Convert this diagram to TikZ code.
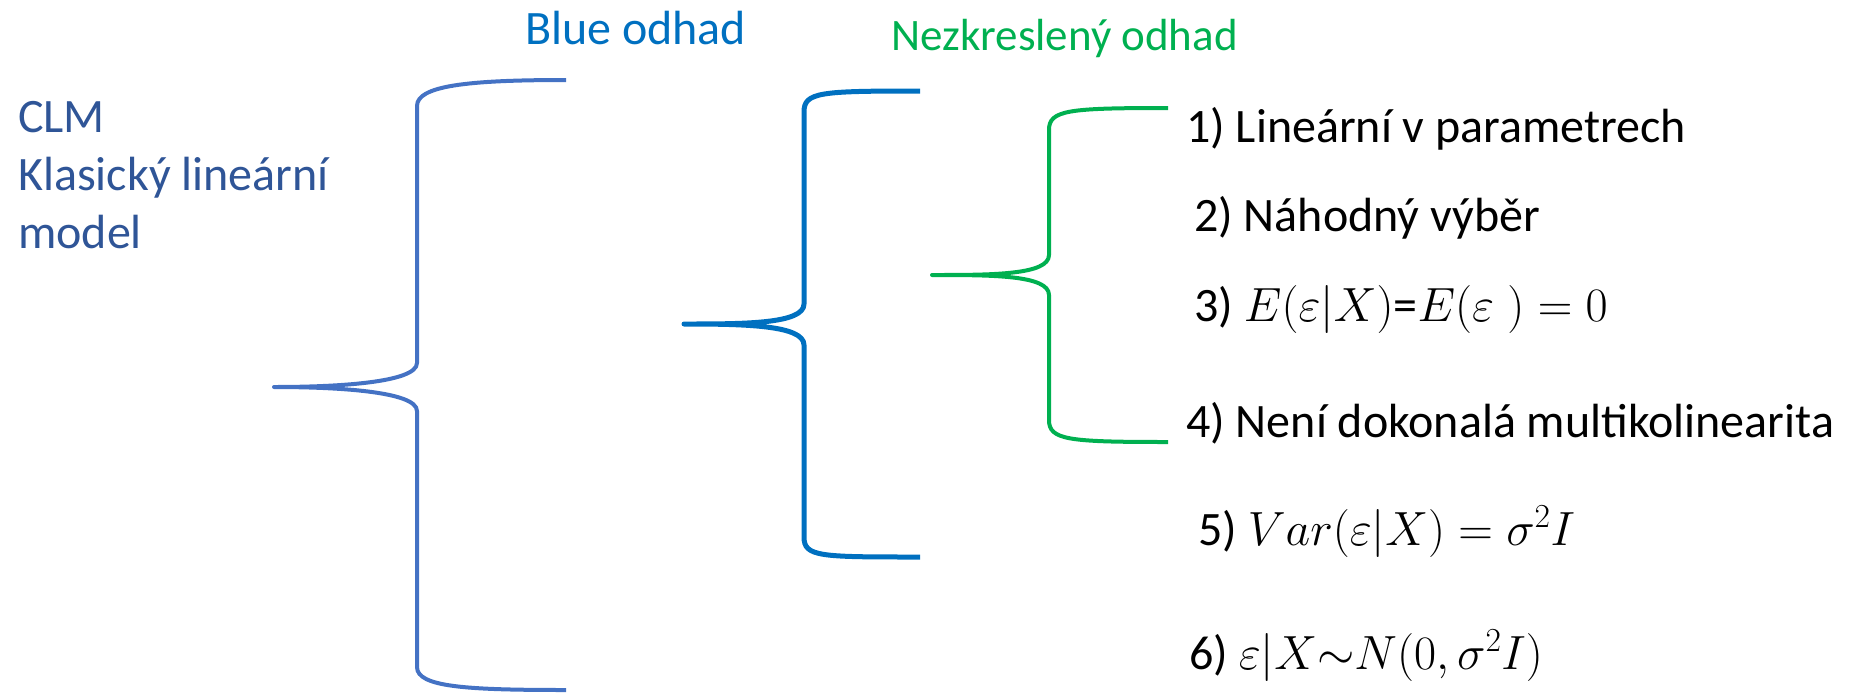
\documentclass[tikz,border=0pt]{standalone}
\usepackage{fix-cm}
\usepackage{fontspec}
\setmainfont{Carlito}
\usepackage{tikz}
\usetikzlibrary{positioning}
\definecolor{clmblue}{HTML}{4472C4}
\definecolor{clmtext}{HTML}{2F5597}
\definecolor{blueodhad}{HTML}{0070C0}
\definecolor{nezgreen}{HTML}{00B050}

\begin{document}
\begin{tikzpicture}[x=1pt,y=-1pt,
  lbl/.style={anchor=base west,inner sep=0pt,font=\fontsize{48}{58}\selectfont},
  brace/.style={line width=4pt,line join=round}]
  \useasboundingbox (0,0) rectangle (1850,697);

  % headings
  \node[lbl,align=left,text=clmtext] (clm) at (18,248) {CLM\\Klasický lineární\\model};
  \node[lbl,text=blueodhad] (blue) at (525,44) {Blue odhad};
  \node[lbl,text=nezgreen,font=\fontsize{45}{54}\selectfont] (nezkr) at (891,50) {Nezkreslený odhad};

  % assumptions
  \node[lbl] (a1) at (1186,142) {1) Lineární v parametrech};
  \node[lbl] (a2) at (1194,231) {2) Náhodný výběr};
  \node[lbl] (a3) at (1194,321) {3) $E(\varepsilon|X)$=$E(\varepsilon\;) = 0$};
  \node[lbl] (a4) at (1186,437) {4) Není dokonalá multikolinearita};
  \node[lbl] (a5) at (1198,545) {5) $Var(\varepsilon|X) = \sigma^2 I$};
  \node[lbl] (a6) at (1189,669) {6) $\varepsilon|X{\sim}N(0,\sigma^2 I)$};

  % brace points: top end, spine, tip, spine, bottom end
  \coordinate (clm-top) at (566,80);  \coordinate (clm-s1) at (417,106);
  \coordinate (clm-s2) at (417,363);  \coordinate (clm-tip) at (274,387);
  \coordinate (clm-s3) at (417,411);  \coordinate (clm-s4) at (417,667);
  \coordinate (clm-bot) at (566,690);

  \coordinate (blue-top) at (920,91);  \coordinate (blue-s1) at (804,112);
  \coordinate (blue-s2) at (804,304);  \coordinate (blue-tip) at (684,324);
  \coordinate (blue-s3) at (804,345);  \coordinate (blue-s4) at (804,537);
  \coordinate (blue-bot) at (920,557);

  \coordinate (nez-top) at (1168,108); \coordinate (nez-s1) at (1049,130);
  \coordinate (nez-s2) at (1049,255);  \coordinate (nez-tip) at (932,275);
  \coordinate (nez-s3) at (1049,295);  \coordinate (nez-s4) at (1049,420);
  \coordinate (nez-bot) at (1168,442);

  \foreach \b/\c/\w in {clm/clmblue/4pt, blue/blueodhad/5pt, nez/nezgreen/4pt}
    \draw[brace,\c,line width=\w]
      (\b-top) .. controls +(-100,0) and +(0,-20) .. (\b-s1) -- (\b-s2)
      .. controls +(0,20) and +(60,0) .. (\b-tip)
      .. controls +(60,0) and +(0,-20) .. (\b-s3) -- (\b-s4)
      .. controls +(0,20) and +(-100,0) .. (\b-bot);
\end{tikzpicture}
\end{document}
